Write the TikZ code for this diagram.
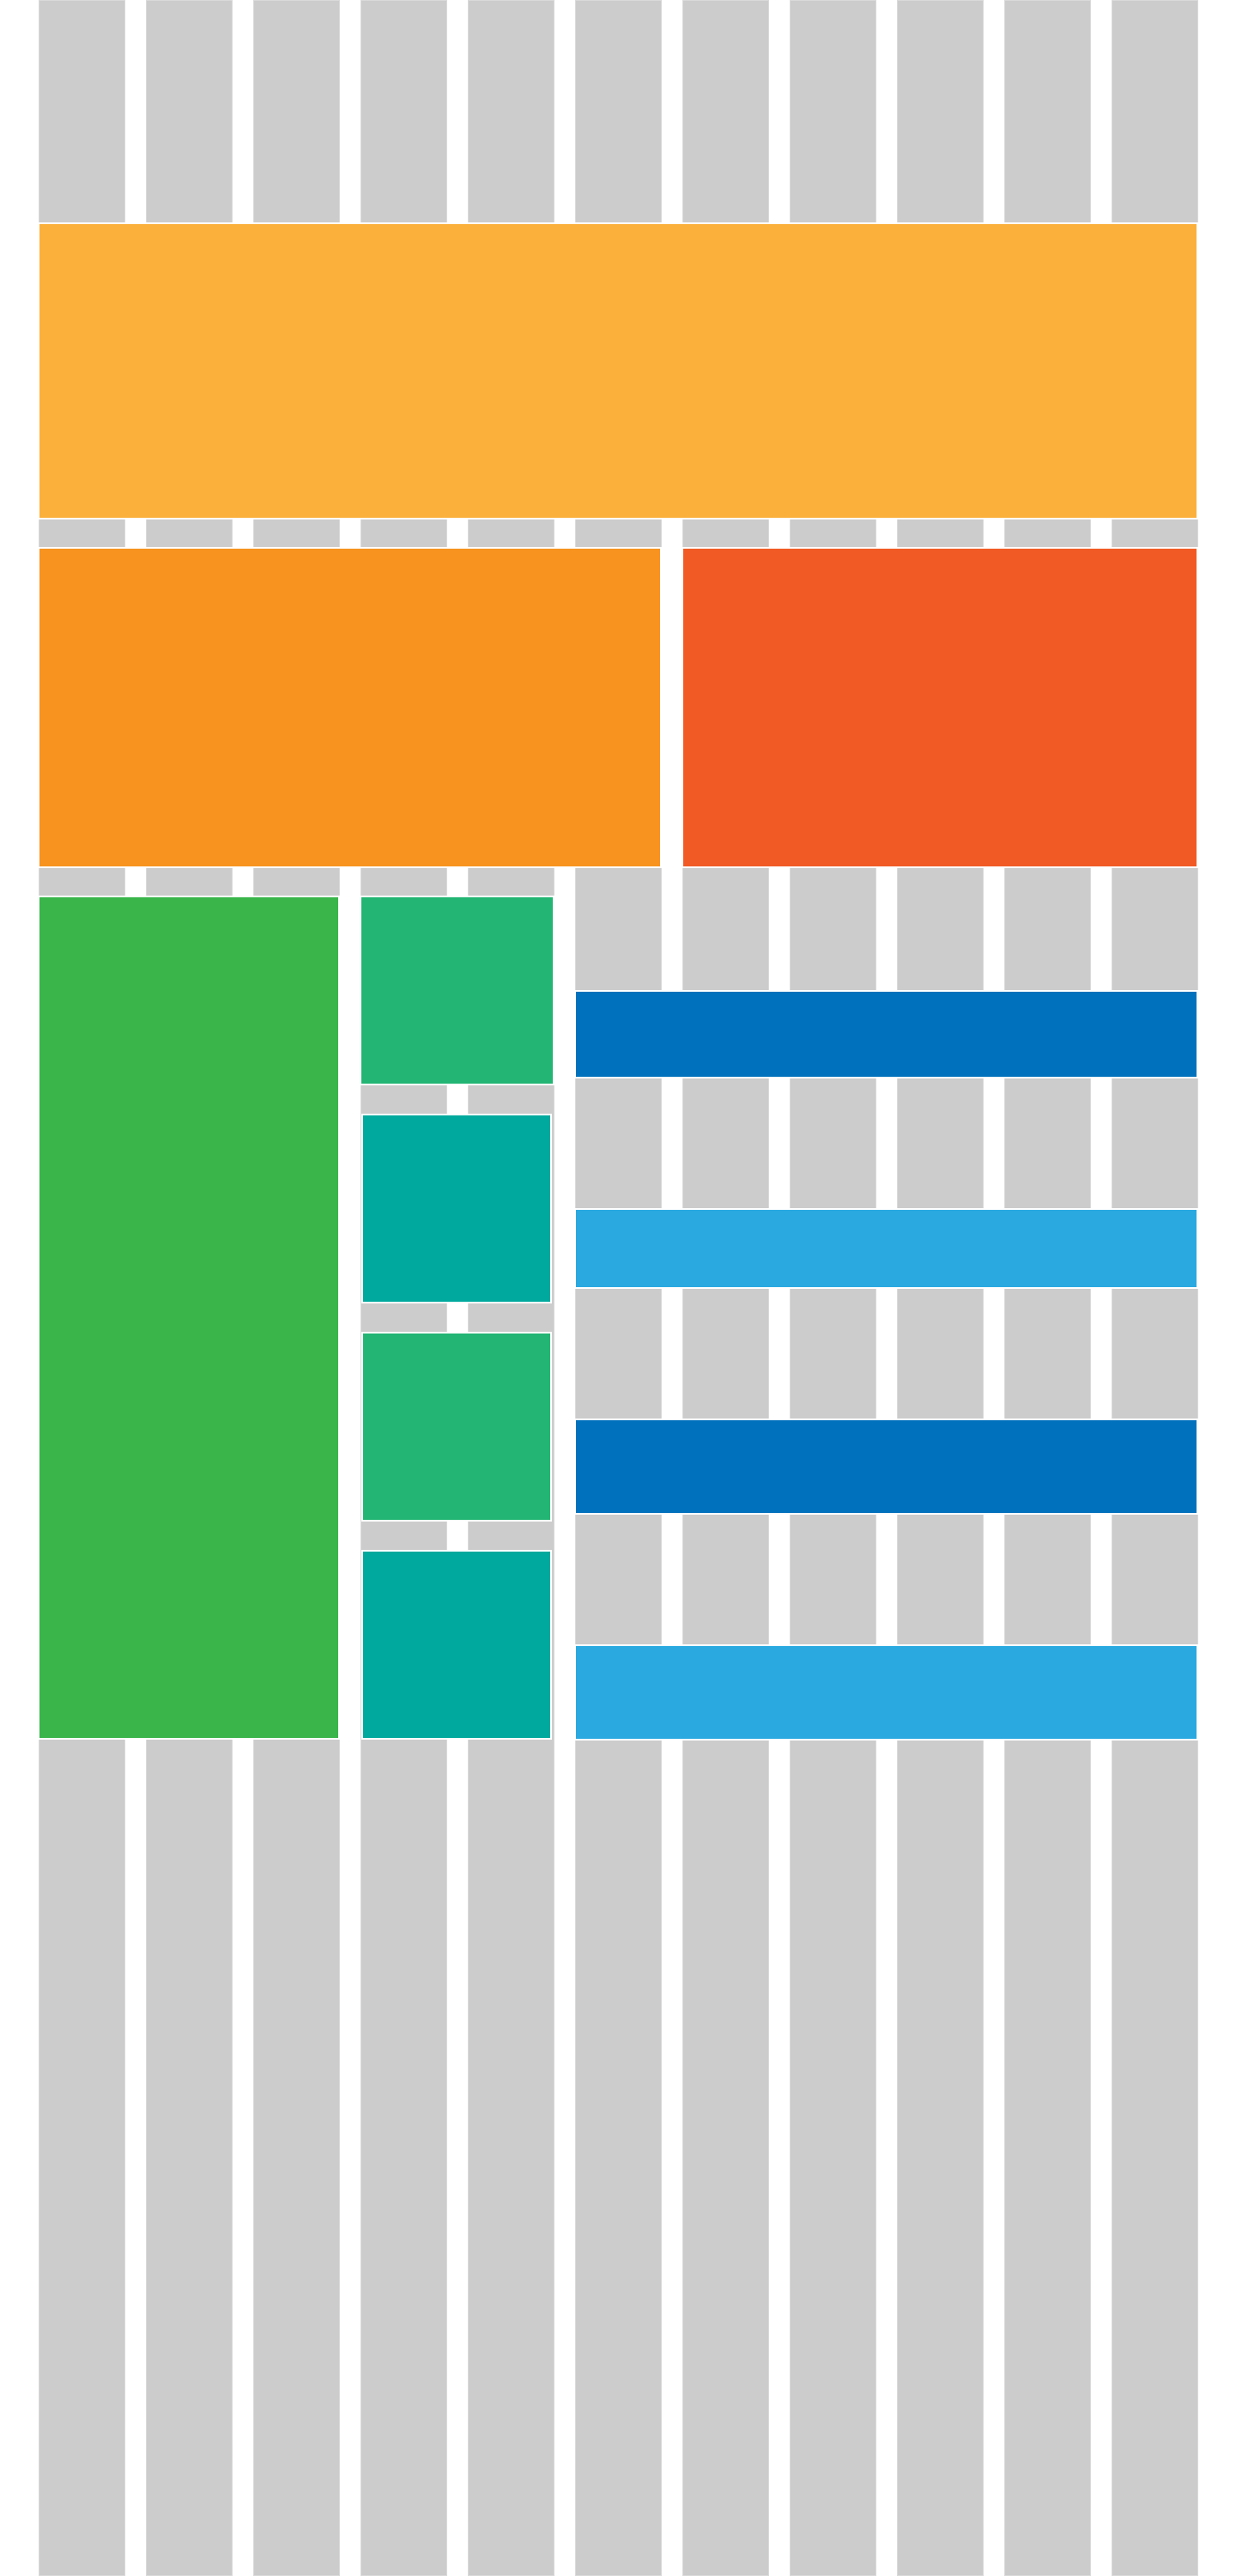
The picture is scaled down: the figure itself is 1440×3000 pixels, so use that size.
\documentclass[tikz,border=0pt]{standalone}
\usepackage{xcolor}
\usepackage{tikz}
\definecolor{colgray}{HTML}{CCCCCC}
\definecolor{coledge}{HTML}{DADADA}
\definecolor{bandorange}{HTML}{FBB03B}
\definecolor{midorange}{HTML}{F7931E}
\definecolor{redorange}{HTML}{F15A24}
\definecolor{leafgreen}{HTML}{39B54A}
\definecolor{seagreen}{HTML}{22B573}
\definecolor{tealblock}{HTML}{00A99D}
\definecolor{deepblue}{HTML}{0071BC}
\definecolor{skyblue}{HTML}{29A9E0}
\tikzset{
  % grid columns
  gridcol/.style={fill=colgray, draw=coledge, line width=0.01cm},
  % layout blocks
  block/.style={fill=#1, draw=white, line width=0.012cm},
  block/.default={colgray},
}

\begin{document}
\begin{tikzpicture}[x=0.01cm, y=-0.01cm]
    \useasboundingbox (0,0) rectangle (1440,3000);

    % Columns
    \foreach \k in {0,...,10} {
      \draw[gridcol] ({45+125*\k},1) rectangle ({145+125*\k},2999);
    }

    % Header band
    \draw[block=bandorange] (45,260) rectangle (1395,604);

    % Second row
    \draw[block=midorange] (45,638) rectangle (770,1010);
    \draw[block=redorange] (795,638) rectangle (1395,1010);

    % Sidebar
    \draw[block=leafgreen] (45,1044) rectangle (395,2025);

    % Stacked tiles
    \draw[block=seagreen] (420,1044) rectangle (645,1263);
    \draw[block=tealblock] (422,1298) rectangle (642,1517);
    \draw[block=seagreen] (422,1552) rectangle (642,1771);
    \draw[block=tealblock] (422,1806) rectangle (642,2025);

    % Content bars
    \draw[block=deepblue] (670,1154) rectangle (1395,1255);
    \draw[block=skyblue] (670,1408) rectangle (1395,1500);
    \draw[block=deepblue] (670,1653) rectangle (1395,1763);
    \draw[block=skyblue] (670,1916) rectangle (1395,2026);
  \end{tikzpicture}
\end{document}
